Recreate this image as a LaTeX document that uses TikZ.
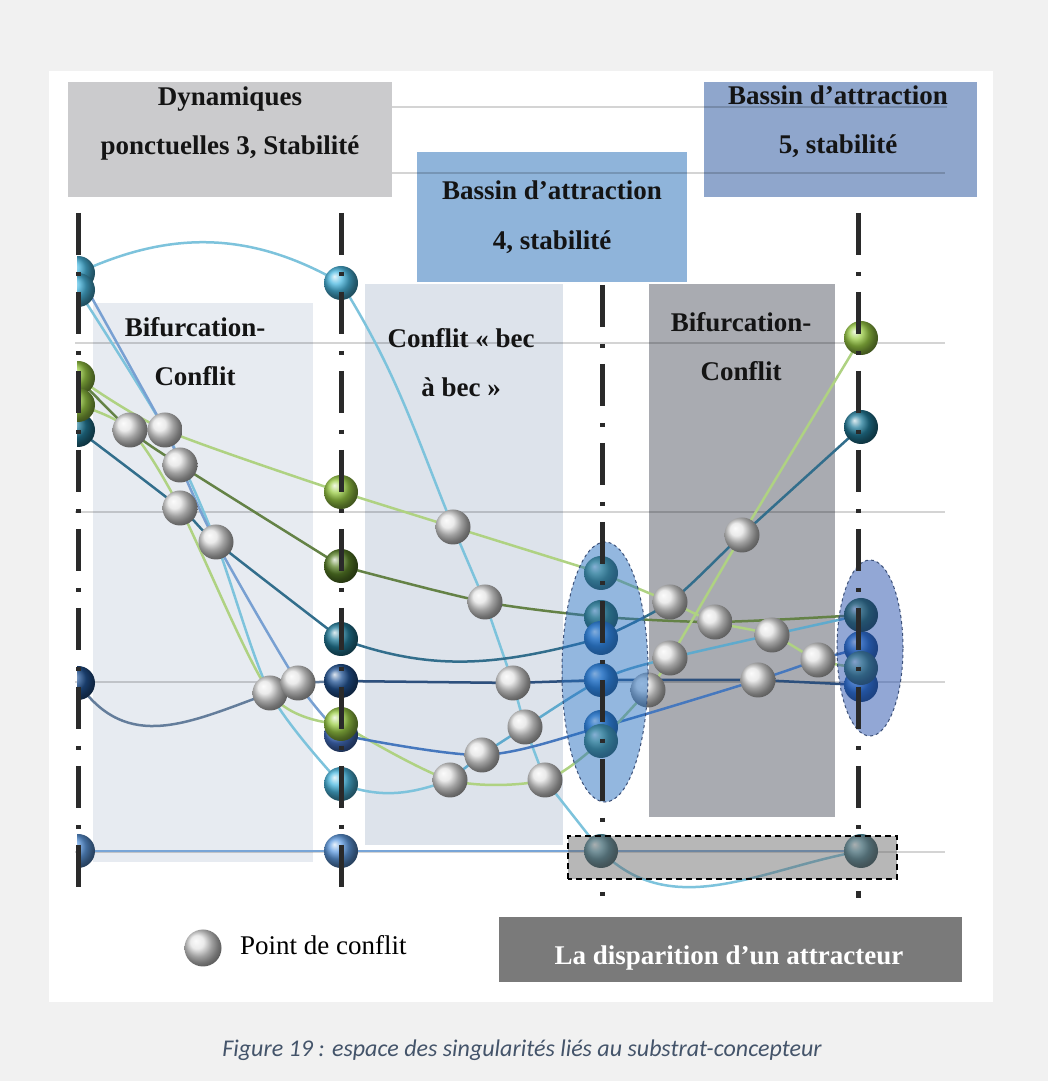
\documentclass[tikz,border=0pt]{standalone}
\usepackage{fontspec}
\setmainfont{Liberation Serif}
\newfontfamily\capfont{Carlito}
\pgfdeclarelayer{bg}
\pgfdeclarelayer{lines}
\pgfdeclarelayer{fg}
\pgfsetlayers{bg,lines,main,fg}
% panel colours
\definecolor{bgc}{RGB}{241,241,241}
\definecolor{dync}{RGB}{203,203,205}
\definecolor{bfourc}{RGB}{143,180,218}
\definecolor{bfivec}{RGB}{143,166,204}
\definecolor{lpc}{RGB}{231,235,241}
\definecolor{mpc}{RGB}{221,227,235}
\definecolor{rpc}{RGB}{169,171,177}
\definecolor{dispc}{RGB}{122,122,122}
\definecolor{capc}{RGB}{68,84,106}
\definecolor{axc}{RGB}{42,42,42}
\definecolor{elac}{RGB}{40,112,192}
\definecolor{elbc}{RGB}{38,80,172}
\definecolor{elborder}{RGB}{60,80,120}
\definecolor{rectc}{RGB}{97,97,97}
% sphere colours
\definecolor{cyb}{RGB}{75,185,225}
\definecolor{limeb}{RGB}{155,205,70}
\definecolor{oliveb}{RGB}{90,130,40}
\definecolor{tealb}{RGB}{35,125,155}
\definecolor{navyb}{RGB}{35,85,150}
\definecolor{blueb}{RGB}{95,155,225}
\definecolor{blueb2}{RGB}{70,115,200}
\definecolor{seab}{RGB}{85,165,125}
\definecolor{seab2}{RGB}{60,140,95}
\definecolor{athreeb}{RGB}{45,125,210}
\definecolor{dkgreenb}{RGB}{50,125,70}
\definecolor{cadetb}{RGB}{95,165,185}
\definecolor{cgray}{RGB}{228,228,228}
% line colours
\definecolor{lcy}{RGB}{125,195,220}
\definecolor{lcyb}{RGB}{95,170,205}
\definecolor{stl}{RGB}{120,160,210}
\definecolor{stlb}{RGB}{70,120,190}
\definecolor{lgr}{RGB}{175,210,130}
\definecolor{olv}{RGB}{100,130,70}
\definecolor{tel}{RGB}{50,110,140}
\definecolor{nvy}{RGB}{45,80,125}
\definecolor{nvg}{RGB}{100,125,155}
\definecolor{btm}{RGB}{120,165,215}
\begin{document}
\begin{tikzpicture}[x=1pt,y=1pt,
  sph/.style={circle, inner sep=0pt, minimum size=34pt, ball color=#1},
  cfp/.style={circle, inner sep=0pt, minimum size=35pt, ball color=cgray},
  ln/.style={line width=2.5pt, line cap=round, line join=round, draw=#1},
  btxt/.style={font=\bfseries\fontsize{27}{30}\selectfont, anchor=base, inner sep=0pt, text=black!92},
  ptxt/.style={font=\fontsize{27}{30}\selectfont, anchor=base west, inner sep=0pt, text=black},
  axisln/.style={line width=5pt, draw=axc, dash pattern=on 42pt off 17pt on 4pt off 16pt},
  gridln/.style={line width=2pt, draw=black, draw opacity=.17},
  sm/.style={smooth, tension=.5}]
\useasboundingbox (0,0) rectangle (1048,1081);

% ---------------- background layer ----------------
\begin{pgfonlayer}{bg}
\fill[bgc] (0,0) rectangle (1048,1081);
\fill[white] (49,79) rectangle (993,1010);
\fill[dync] (68,884) rectangle (392,999);
\fill[bfourc] (417,799) rectangle (687,929);
\fill[bfivec] (704,884) rectangle (977,999);
\fill[lpc] (93,219) rectangle (313,778);
\fill[mpc] (365,236) rectangle (563,797);
\fill[rpc] (649,264) rectangle (835,797);
\fill[dispc] (499,99) rectangle (962,164);
\draw[gridln] (392,974) -- (947,974);
\draw[gridln] (392,908) -- (945,908);
\draw[gridln] (75,738) -- (945,738);
\draw[gridln] (75,569) -- (945,569);
\draw[gridln] (75,399) -- (945,399);
\draw[gridln] (75,229) -- (945,229);
\end{pgfonlayer}

% ---------------- texts ----------------
\node[btxt] (tdyna) at (230,975) {Dynamiques};
\node[btxt] (tdynb) at (230,926) {ponctuelles 3, Stabilité};
\node[btxt] (tbfa) at (552,881) {Bassin d’attraction};
\node[btxt] (tbfb) at (552,831) {4, stabilité};
\node[btxt] (tbva) at (838,976) {Bassin d’attraction};
\node[btxt] (tbvb) at (838,927) {5, stabilité};
\node[btxt] (tlpa) at (195,744) {Bifurcation-};
\node[btxt] (tlpb) at (195,695) {Conflit};
\node[btxt] (tmpa) at (461,733) {Conflit « bec};
\node[btxt] (tmpb) at (461,684) {à bec »};
\node[btxt] (trpa) at (741,749) {Bifurcation-};
\node[btxt] (trpb) at (741,700) {Conflit};
\node[btxt, text=white] (tdisp) at (729,116) {La disparition d’un attracteur};
\node[ptxt] (tleg) at (240,126) {Point de conflit};
\node[font=\capfont\itshape\fontsize{24}{27}\selectfont, text=capc, anchor=base, inner sep=0pt] (cap) at (522,24)
  {Figure 19 : espace des singularités liés au substrat-concepteur};

% ---------------- spheres: axis 1 (clipped) ----------------
\begin{scope}
\clip (77,150) rectangle (140,900);
\node[sph=cyb] (p1a) at (78,808) {};
\node[sph=cyb] (p1b) at (78,791) {};
\node[sph=tealb] (p1e) at (78,651) {};
\node[sph=limeb] (p1c) at (78,703) {};
\node[sph=limeb] (p1d) at (78,676) {};
\node[sph=navyb] (p1f) at (78,398) {};
\node[sph=blueb] (p1g) at (78,230) {};
\end{scope}
% axis 2
\node[sph=cyb] (p2a) at (341,798) {};
\node[sph=limeb] (p2b) at (341,589) {};
\node[sph=oliveb] (p2c) at (341,515) {};
\node[sph=tealb] (p2d) at (341,442) {};
\node[sph=navyb] (p2e) at (341,400) {};
\node[sph=blueb2] (p2g) at (341,346) {};
\node[sph=limeb] (p2f) at (341,357) {};
\node[sph=cyb] (p2h) at (341,297) {};
\node[sph=blueb] (p2i) at (341,230) {};
% axis 3
\node[sph=seab] (p3a) at (601,508) {};
\node[sph=seab2] (p3b) at (601,464) {};
\node[sph=athreeb] (p3c) at (601,443) {};
\node[sph=athreeb] (p3d) at (601,401) {};
\node[sph=athreeb] (p3e) at (601,354) {};
\node[sph=seab] (p3f) at (601,340) {};
\node[sph=cadetb] (p3g) at (601,230) {};
% axis 4
\node[sph=limeb] (p4a) at (861,743) {};
\node[sph=tealb] (p4b) at (861,654) {};
\node[sph=athreeb] (p4d) at (861,433) {};
\node[sph=athreeb] (p4f) at (861,396) {};
\node[sph=dkgreenb] (p4c) at (861,466) {};
\node[sph=seab] (p4e) at (861,413) {};
\node[sph=cadetb] (p4g) at (861,230) {};
% conflict points
\node[cfp] (k1) at (130,651) {};
\node[cfp] (k2) at (165,651) {};
\node[cfp] (k3) at (180,616) {};
\node[cfp] (k4) at (180,573) {};
\node[cfp] (k5) at (216,539) {};
\node[cfp] (k6) at (270,388) {};
\node[cfp] (k7) at (298,398) {};
\node[cfp] (k8) at (453,554) {};
\node[cfp] (k9) at (485,479) {};
\node[cfp] (k10) at (513,398) {};
\node[cfp] (k11) at (525,354) {};
\node[cfp] (k12) at (482,326) {};
\node[cfp] (k13) at (450,301) {};
\node[cfp] (k14) at (545,301) {};
\node[cfp] (k15) at (648,391) {};
\node[cfp] (k16) at (742,546) {};
\node[cfp] (k17) at (670,479) {};
\node[cfp] (k18) at (715,459) {};
\node[cfp] (k19) at (772,446) {};
\node[cfp] (k20) at (818,421) {};
\node[cfp] (k21) at (670,423) {};
\node[cfp] (k22) at (758,401) {};
\node[cfp, minimum size=37pt] (kl) at (203,133) {};

% ---------------- connectors ----------------
\begin{pgfonlayer}{lines}
% left section
\draw[ln=lcy] (p1a.center) to[out=25,in=150] (p2a.center);
\draw[ln=lcy] plot[sm] coordinates {(p1b.center) (k2.center) (k5.center) (k6.center) (p2h.center)};
\draw[ln=stl] plot[sm] coordinates {(p1a.center) (k2.center) (k3.center) (k5.center) (k7.center) (p2g.center)};
\draw[ln=olv] plot[sm] coordinates {(p1c.center) (k1.center) (k3.center) (p2c.center)};
\draw[ln=lgr] plot[sm] coordinates {(p1c.center) (k2.center) (p2b.center)};
\draw[ln=tel] plot[sm] coordinates {(p1e.center) (k4.center) (k5.center) (p2d.center)};
\draw[ln=lgr] plot[sm] coordinates {(p1d.center) (k1.center) (k4.center) (k6.center) (p2f.center)};
\draw[ln=nvg] (p1f.center) to[out=-55,in=200,looseness=1.15] (k6.center) -- (k7.center) -- (p2e.center);
% middle section
\draw[ln=lcy] (p2a.center) to[out=-58,in=112] (k8.center) -- (k9.center) -- (k10.center) -- (k11.center) -- (k14.center) -- (p3g.center);
\draw[ln=lgr] plot[sm] coordinates {(p2b.center) (k8.center) (p3a.center)};
\draw[ln=olv] plot[sm] coordinates {(p2c.center) (k9.center) (p3b.center)};
\draw[ln=tel] (p2d.center) to[out=-20,in=195] (p3c.center);
\draw[ln=nvy] (p2e.center) -- (k10.center) -- (p3d.center);
\draw[ln=lgr] plot[sm] coordinates {(p2f.center) (k13.center) (k14.center) (p3f.center)};
\draw[ln=stlb] plot[sm] coordinates {(p2g.center) (k12.center) (p3e.center) (k22.center) (k20.center) (p4d.center)};
\draw[ln=lcy] (p2h.center) to[out=-20,in=200] (k13.center);
\draw[ln=lcyb] plot[sm] coordinates {(k13.center) (k12.center) (k11.center) (p3d.center) (k21.center) (p4c.center)};
% right section
\draw[ln=lgr] plot[sm] coordinates {(p3a.center) (k17.center) (k18.center) (k19.center) (k20.center) (p4e.center)};
\draw[ln=olv] plot[sm] coordinates {(p3b.center) (k18.center) (p4c.center)};
\draw[ln=tel] plot[sm] coordinates {(p3c.center) (k17.center) (k16.center) (p4b.center)};
\draw[ln=lgr] plot[sm] coordinates {(p3f.center) (k15.center) (k21.center) (k16.center) (p4a.center)};
\draw[ln=nvy] (p3d.center) -- (k22.center) -- (p4f.center);
\draw[ln=lcy] (p3g.center) to[out=-45,in=190] (p4g.center);
% bottom line
\draw[ln=btm] (p1g.center) -- (p2i.center) -- (p3g.center) -- (p4g.center);
\end{pgfonlayer}

% ---------------- foreground ----------------
\begin{pgfonlayer}{fg}
\draw[dashed, draw=elborder, line width=1pt, fill=elac, fill opacity=.5] (605,409) ellipse [x radius=43, y radius=130];
\draw[dashed, draw=elborder, line width=1pt, fill=elbc, fill opacity=.5] (870,433) ellipse [x radius=33, y radius=88];
\draw[axisln] (78,868) -- (78,180);
\draw[axisln] (341,868) -- (341,180);
\draw[axisln] (602,796) -- (602,245);
\draw[axisln] (858,868) -- (858,245);
\draw[line width=5pt, draw=axc] (602,189) -- (602,185);
\draw[line width=5pt, draw=axc] (858,190) -- (858,183);
\draw[line width=1.5pt, dash pattern=on 6pt off 4pt, fill=rectc, fill opacity=.45] (568,202) rectangle (897,245);
\end{pgfonlayer}
\end{tikzpicture}
\end{document}
